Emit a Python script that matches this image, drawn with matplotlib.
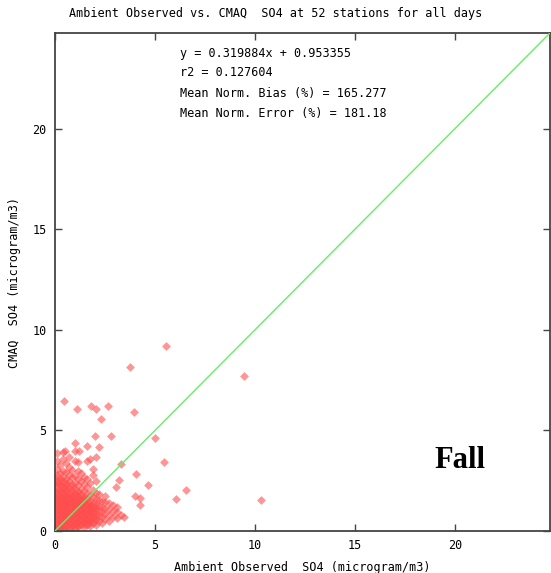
import matplotlib
matplotlib.use("Agg")
import matplotlib.pyplot as plt

# ---- data ----
# dense cluster, listed by observed-value column
cluster_cols = [
    (0.10, [0.1, 0.35, 0.6, 0.85, 1.1, 1.35, 1.6, 1.9, 2.2, 2.5, 2.8, 3.1, 3.5, 3.9]),
    (0.25, [0.2, 0.45, 0.7, 0.95, 1.2, 1.45, 1.7, 2.0, 2.3, 2.6, 2.9, 3.3]),
    (0.40, [0.1, 0.3, 0.55, 0.8, 1.05, 1.3, 1.55, 1.8, 2.1, 2.4, 2.7, 3.0, 3.6, 3.95]),
    (0.55, [0.2, 0.45, 0.7, 0.95, 1.2, 1.45, 1.7, 2.0, 2.3, 2.6, 2.95, 3.4]),
    (0.70, [0.15, 0.4, 0.65, 0.9, 1.15, 1.4, 1.65, 1.9, 2.2, 2.5, 2.8, 3.2, 3.7]),
    (0.85, [0.25, 0.5, 0.75, 1.0, 1.25, 1.5, 1.75, 2.05, 2.35, 2.7, 3.05]),
    (1.00, [0.1, 0.35, 0.6, 0.85, 1.1, 1.35, 1.6, 1.85, 2.1, 2.4, 2.75, 3.5, 4.0]),
    (1.15, [0.2, 0.45, 0.7, 0.95, 1.2, 1.45, 1.7, 2.0, 2.3, 2.6, 3.0, 3.45]),
    (1.30, [0.3, 0.55, 0.8, 1.05, 1.3, 1.55, 1.8, 2.1, 2.5, 2.9]),
    (1.45, [0.2, 0.45, 0.7, 0.95, 1.2, 1.45, 1.7, 2.0, 2.35, 2.7]),
    (1.60, [0.3, 0.55, 0.8, 1.05, 1.3, 1.6, 1.9, 2.2, 2.6, 3.5]),
    (1.75, [0.25, 0.5, 0.75, 1.0, 1.25, 1.5, 1.8, 2.4, 3.6]),
    (1.90, [0.4, 0.65, 0.9, 1.15, 1.4, 1.7, 2.05, 2.8, 3.1]),
    (2.05, [0.3, 0.6, 0.85, 1.1, 1.35, 1.6, 1.9, 2.5, 3.7]),
    (2.20, [0.5, 0.75, 1.0, 1.25, 1.55, 1.85]),
    (2.35, [0.4, 0.7, 0.95, 1.2, 1.5]),
    (2.50, [0.6, 0.9, 1.15, 1.45, 1.75]),
    (2.70, [0.5, 0.8, 1.1, 1.4]),
    (2.90, [0.7, 1.0, 1.3]),
    (3.10, [0.65, 0.95, 1.2]),
]
# extra points filling the densest core
core_cols = [
    (0.05, [0.05, 0.25, 0.5, 0.75, 1.0, 1.25, 1.5, 1.75, 2.0, 2.35, 2.65]),
    (0.18, [0.1, 0.3, 0.55, 0.8, 1.05, 1.3, 1.55, 1.8, 2.05, 2.4]),
    (0.33, [0.15, 0.4, 0.65, 0.9, 1.15, 1.4, 1.65, 1.95, 2.25, 2.55]),
    (0.48, [0.1, 0.35, 0.6, 0.85, 1.1, 1.35, 1.6, 1.85, 2.15]),
    (0.62, [0.3, 0.55, 0.8, 1.05, 1.3, 1.55, 1.8, 2.1, 2.4]),
    (0.78, [0.1, 0.35, 0.6, 0.85, 1.1, 1.35, 1.6, 1.9]),
    (0.92, [0.3, 0.55, 0.8, 1.05, 1.3, 1.55, 1.8, 2.2]),
    (1.08, [0.25, 0.5, 0.75, 1.0, 1.25, 1.5, 1.8]),
    (1.22, [0.35, 0.6, 0.85, 1.1, 1.35, 1.6, 1.9]),
    (1.38, [0.4, 0.65, 0.9, 1.15, 1.4, 1.65]),
    (1.52, [0.35, 0.6, 0.85, 1.1, 1.35, 1.6]),
    (1.68, [0.4, 0.65, 0.9, 1.15, 1.4]),
    (1.82, [0.55, 0.8, 1.05, 1.3]),
    (1.98, [0.5, 0.75, 1.0, 1.25]),
]

outlier_obs = [5.57, 3.73, 9.45, 0.45, 1.10, 1.80, 2.04, 2.64, 2.29, 3.93,
               2.00, 2.79, 5.00, 1.00, 1.60, 2.20, 0.50, 1.20, 3.28, 5.47,
               4.03, 4.63, 3.03, 3.98, 6.07, 6.57, 4.23, 4.23, 10.30, 3.18,
               3.28, 3.45]
outlier_cmaq = [9.18, 8.13, 7.68, 6.48, 6.08, 6.23, 6.08, 6.23, 5.59, 5.89,
                4.74, 4.74, 4.64, 4.39, 4.24, 4.19, 4.00, 4.00, 3.34, 3.44,
                2.84, 2.29, 2.19, 1.75, 1.60, 2.04, 1.65, 1.30, 1.55, 2.54,
                0.80, 0.70]

obs = ([x for x, ys in cluster_cols for _ in ys] + [x for x, ys in core_cols for _ in ys]
       + outlier_obs)
cmaq = ([y for _, ys in cluster_cols for y in ys] + [y for _, ys in core_cols for y in ys]
        + outlier_cmaq)

ticks = [0, 5, 10, 15, 20]
title = "Ambient Observed vs. CMAQ  SO4 at 52 stations for all days"
stats = ["y = 0.319884x + 0.953355",
         "r2 = 0.127604",
         "Mean Norm. Bias (%) = 165.277",
         "Mean Norm. Error (%) = 181.18"]

# ---- figure ----
W, H = 551, 573
fig = plt.figure(figsize=(W / 100, H / 100), dpi=100)
left, right, top, bottom = 55, 550, 33, 531
ax = fig.add_axes([left / W, 1 - bottom / H, (right - left) / W, (bottom - top) / H])
lim = 24.75
ax.set_xlim(0, lim)
ax.set_ylim(0, lim)

mono = "DejaVu Sans Mono"
ax.scatter(obs, cmaq, marker="D", s=20, color="#ff4d4d", alpha=0.6,
           linewidths=0, zorder=2)
ax.plot([0, lim], [0, lim], color="#66ee66", lw=1.0, zorder=3)

for sp in ax.spines.values():
    sp.set_color("#444444")
    sp.set_linewidth(1.3)

ax.set_xticks(ticks)
ax.set_yticks(ticks)
ax.tick_params(direction="in", length=5, width=1, color="#444444",
               top=True, right=True, labelsize=8.5, pad=6)
for lab in ax.get_xticklabels() + ax.get_yticklabels():
    lab.set_family(mono)

ax.set_xlabel("Ambient Observed  SO4 (microgram/m3)", family=mono, fontsize=8.5, labelpad=6)
ax.set_ylabel("CMAQ  SO4 (microgram/m3)", family=mono, fontsize=8.5, labelpad=8)
fig.text(0.5, 1 - 13 / H, title, family=mono, fontsize=8.5, ha="center", va="center")

ys_px = [53, 73, 94, 113]
for s, yp in zip(stats, ys_px):
    fig.text(180 / W, 1 - yp / H, s, family=mono, fontsize=8.5, ha="left", va="center")

fig.text(460 / W, 1 - 460 / H, "Fall", family="Liberation Serif", fontweight="bold",
         fontsize=22, ha="center", va="center")

fig.savefig("out.png", dpi=100)
